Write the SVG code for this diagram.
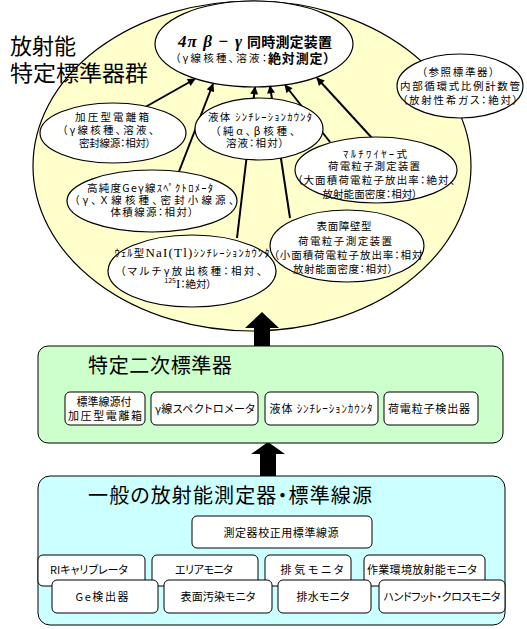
<svg xmlns="http://www.w3.org/2000/svg" width="527" height="629" viewBox="0 0 527 629">
<style>
text{font-family:"Noto Sans CJK JP","Noto Sans CJK SC",sans-serif;font-size:10.5px;fill:#000;font-feature-settings:"palt"}
.t{text-anchor:middle}
.big{font-size:22px}
.ttl{font-size:20px}
.bt{font-size:11px}
.gk{font-family:"Liberation Serif",serif;font-size:17px;font-weight:bold;font-style:italic}
.h1{font-size:14px;font-weight:bold}
.h2{font-size:13px;font-weight:bold}
.nd{fill:#fff;stroke:#000;stroke-width:1.2}
.bx{fill:#fff;stroke:#000;stroke-width:1}
.cn{stroke:#000;stroke-width:2;fill:none;marker-end:url(#ah)}
.serif{font-family:"Liberation Serif",serif}
</style>
<defs>
<marker id="ah" viewBox="0 0 10 10" refX="9" refY="5" markerWidth="9" markerHeight="8" orient="auto" markerUnits="userSpaceOnUse"><path d="M0,0L10,5L0,10z" fill="#000"/></marker>
</defs>
<g id="group-specified">
<ellipse cx="252" cy="166" rx="219" ry="165" fill="#FFFFCC" stroke="#000" stroke-width="1.2"/>
<text x="10" y="54" class="big" textLength="66" lengthAdjust="spacingAndGlyphs">放射能</text>
<text x="10" y="81" class="big" textLength="138" lengthAdjust="spacingAndGlyphs">特定標準器群</text>
</g>
<g id="node-4pi">
<ellipse class="nd" cx="254" cy="44" rx="99" ry="43"/>
<text x="178" y="47" class="gk" textLength="64" lengthAdjust="spacing">4π β − γ</text>
<text x="247" y="47" class="h1" textLength="85" lengthAdjust="spacing">同時測定装置</text>
<text x="175" y="62" textLength="92" lengthAdjust="spacing">（γ線核種、溶液：</text>
<text x="268" y="63" class="h2" textLength="62" lengthAdjust="spacing">絶対測定）</text>
</g>
<g id="connectors">
<line class="cn" x1="140" y1="110" x2="195" y2="79"/>
<line class="cn" x1="178" y1="174" x2="213" y2="84"/>
<line class="cn" x1="237" y1="238" x2="255" y2="87"/>
<line class="cn" x1="290" y1="218" x2="270" y2="86"/>
<line class="cn" x1="330" y1="142" x2="285" y2="85"/>
<line class="cn" x1="372" y1="138" x2="317" y2="78"/>
<polygon points="262,312 279,328 270,328 270,352 254,352 254,328 245,328" fill="#000"/>
<polygon points="268,442 285,454 276,454 276,477 260,477 260,454 251,454" fill="#000"/>
</g>
<g id="node-ionchamber">
<ellipse class="nd" cx="113" cy="133" rx="73" ry="30"/>
<text x="112" y="121" class="t" textLength="74" lengthAdjust="spacing">加圧型電離箱</text>
<text x="108" y="134" class="t" textLength="92" lengthAdjust="spacing">（γ線核種、溶液、</text>
<text x="115" y="147" class="t" textLength="72" lengthAdjust="spacing">密封線源：相対）</text>
</g>
<g id="node-lsc">
<ellipse class="nd" cx="259" cy="129" rx="64" ry="31"/>
<text x="260" y="121" class="t" textLength="104" lengthAdjust="spacing">液体 ｼﾝﾁﾚｰｼｮﾝｶｳﾝﾀ</text>
<text x="255" y="135" class="t" textLength="80" lengthAdjust="spacing">（純α、β核種、</text>
<text x="255" y="147" class="t" textLength="58" lengthAdjust="spacing">溶液：相対）</text>
</g>
<g id="node-ge">
<ellipse class="nd" cx="152" cy="201" rx="85" ry="31"/>
<text x="150" y="192" class="t" textLength="126" lengthAdjust="spacing">高純度Geγ線ｽﾍﾟｸﾄﾛﾒｰﾀ</text>
<text x="154" y="204" class="t" textLength="160" lengthAdjust="spacing">（γ、Ｘ線核種、密封小線源、</text>
<text x="152" y="216" class="t" textLength="83" lengthAdjust="spacing">体積線源：相対）</text>
</g>
<g id="node-nai">
<ellipse class="nd" cx="192" cy="271" rx="84" ry="36"/>
<text x="192" y="257" class="t" textLength="155" lengthAdjust="spacing">ｳｪﾙ型<tspan class="serif" font-size="13">NaI(Tl)</tspan>ｼﾝﾁﾚｰｼｮﾝｶｳﾝﾀ</text>
<text x="191" y="275" class="t" textLength="142" lengthAdjust="spacing">（マルチγ放出核種：相対、</text>
<text x="188" y="288" class="t"><tspan font-size="7" dy="-5">125</tspan><tspan class="serif" font-size="13" dy="5">I</tspan>：絶対）</text>
</g>
<g id="node-multiwire">
<ellipse class="nd" cx="376" cy="170" rx="81" ry="33"/>
<text x="375" y="158" class="t" textLength="64" lengthAdjust="spacing">ﾏﾙﾁﾜｲﾔｰ式</text>
<text x="374" y="170" class="t" textLength="92" lengthAdjust="spacing">荷電粒子測定装置</text>
<text x="376" y="184" class="t" textLength="158" lengthAdjust="spacing">（大面積荷電粒子放出率：絶対、</text>
<text x="370" y="198" class="t" textLength="95" lengthAdjust="spacing">放射能面密度：相対）</text>
</g>
<g id="node-ssb">
<ellipse class="nd" cx="347" cy="246" rx="77" ry="36"/>
<text x="344" y="230" class="t" textLength="55" lengthAdjust="spacing">表面障壁型</text>
<text x="345" y="245" class="t" textLength="94" lengthAdjust="spacing">荷電粒子測定装置</text>
<text x="348" y="259" class="t" textLength="149" lengthAdjust="spacing">（小面積荷電粒子放出率：相対</text>
<text x="343" y="273" class="t" textLength="100" lengthAdjust="spacing">放射能面密度：相対）</text>
</g>
<g id="node-reference">
<ellipse class="nd" cx="460" cy="86" rx="63" ry="32"/>
<text x="458" y="76" class="t" textLength="73" lengthAdjust="spacing">（参照標準器）</text>
<text x="460" y="90" class="t" textLength="120" lengthAdjust="spacing">内部循環式比例計数管</text>
<text x="460" y="104" class="t" textLength="116" lengthAdjust="spacing">（放射性希ガス：絶対）</text>
</g>
<g id="group-secondary">
<rect x="38" y="346" width="465" height="97" rx="10" fill="#CCFFCC" stroke="#000"/>
<text x="88" y="373" class="ttl" textLength="144" lengthAdjust="spacing">特定二次標準器</text>
</g>
<g id="node-sec-ionchamber">
<rect class="bx" x="65" y="392" width="80" height="33" rx="5"/>
<text x="104" y="406" class="t bt" textLength="55" lengthAdjust="spacing">標準線源付</text>
<text x="105" y="420" class="t bt" textLength="74" lengthAdjust="spacing">加圧型電離箱</text>
</g>
<g id="node-sec-gamma">
<rect class="bx" x="151" y="392" width="107" height="33" rx="5"/>
<text x="205" y="413" class="t bt" textLength="100" lengthAdjust="spacing">γ線スペクトロメータ</text>
</g>
<g id="node-sec-lsc">
<rect class="bx" x="265" y="392" width="113" height="33" rx="5"/>
<text x="321" y="413" class="t bt" textLength="103" lengthAdjust="spacing">液体 ｼﾝﾁﾚｰｼｮﾝｶｳﾝﾀ</text>
</g>
<g id="node-sec-charged">
<rect class="bx" x="384" y="392" width="94" height="33" rx="5"/>
<text x="429" y="413" class="t bt" textLength="82" lengthAdjust="spacing">荷電粒子検出器</text>
</g>
<g id="group-general">
<rect x="38" y="476" width="467" height="149" rx="12" fill="#CCFFFF" stroke="#000"/>
<text x="88" y="503" class="ttl" textLength="284" lengthAdjust="spacing">一般の放射能測定器・標準線源</text>
</g>
<g id="node-calsource">
<rect class="bx" x="192" y="516" width="180" height="32" rx="5"/>
<text x="281" y="537" class="t bt" textLength="115" lengthAdjust="spacing">測定器校正用標準線源</text>
</g>
<g id="node-ri">
<rect class="bx" x="38" y="555" width="107" height="31" rx="5"/>
<text x="89" y="574" class="t bt" textLength="78" lengthAdjust="spacing">RIキャリブレータ</text>
</g>
<g id="node-area">
<rect class="bx" x="152" y="555" width="106" height="31" rx="5"/>
<text x="204" y="574" class="t bt" textLength="58" lengthAdjust="spacing">エリアモニタ</text>
</g>
<g id="node-exhaust">
<rect class="bx" x="265" y="555" width="86" height="31" rx="5"/>
<text x="312" y="574" class="t bt" textLength="63" lengthAdjust="spacing">排気モニタ</text>
</g>
<g id="node-workplace">
<rect class="bx" x="364" y="555" width="121" height="31" rx="5"/>
<text x="422" y="574" class="t bt" textLength="110" lengthAdjust="spacing">作業環境放射能モニタ</text>
</g>
<g id="node-ge-det">
<rect class="bx" x="52" y="580" width="106" height="33" rx="5"/>
<text x="102" y="601" class="t bt" textLength="53" lengthAdjust="spacing">Ge検出器</text>
</g>
<g id="node-surface">
<rect class="bx" x="164" y="580" width="108" height="33" rx="5"/>
<text x="218" y="601" class="t bt" textLength="75" lengthAdjust="spacing">表面汚染モニタ</text>
</g>
<g id="node-drain">
<rect class="bx" x="278" y="580" width="93" height="33" rx="5"/>
<text x="323" y="601" class="t bt" textLength="53" lengthAdjust="spacing">排水モニタ</text>
</g>
<g id="node-handfoot">
<rect class="bx" x="379" y="580" width="126" height="33" rx="5"/>
<text x="442" y="601" class="t bt" textLength="117" lengthAdjust="spacing">ハンドフット・クロスモニタ</text>
</g>
</svg>
